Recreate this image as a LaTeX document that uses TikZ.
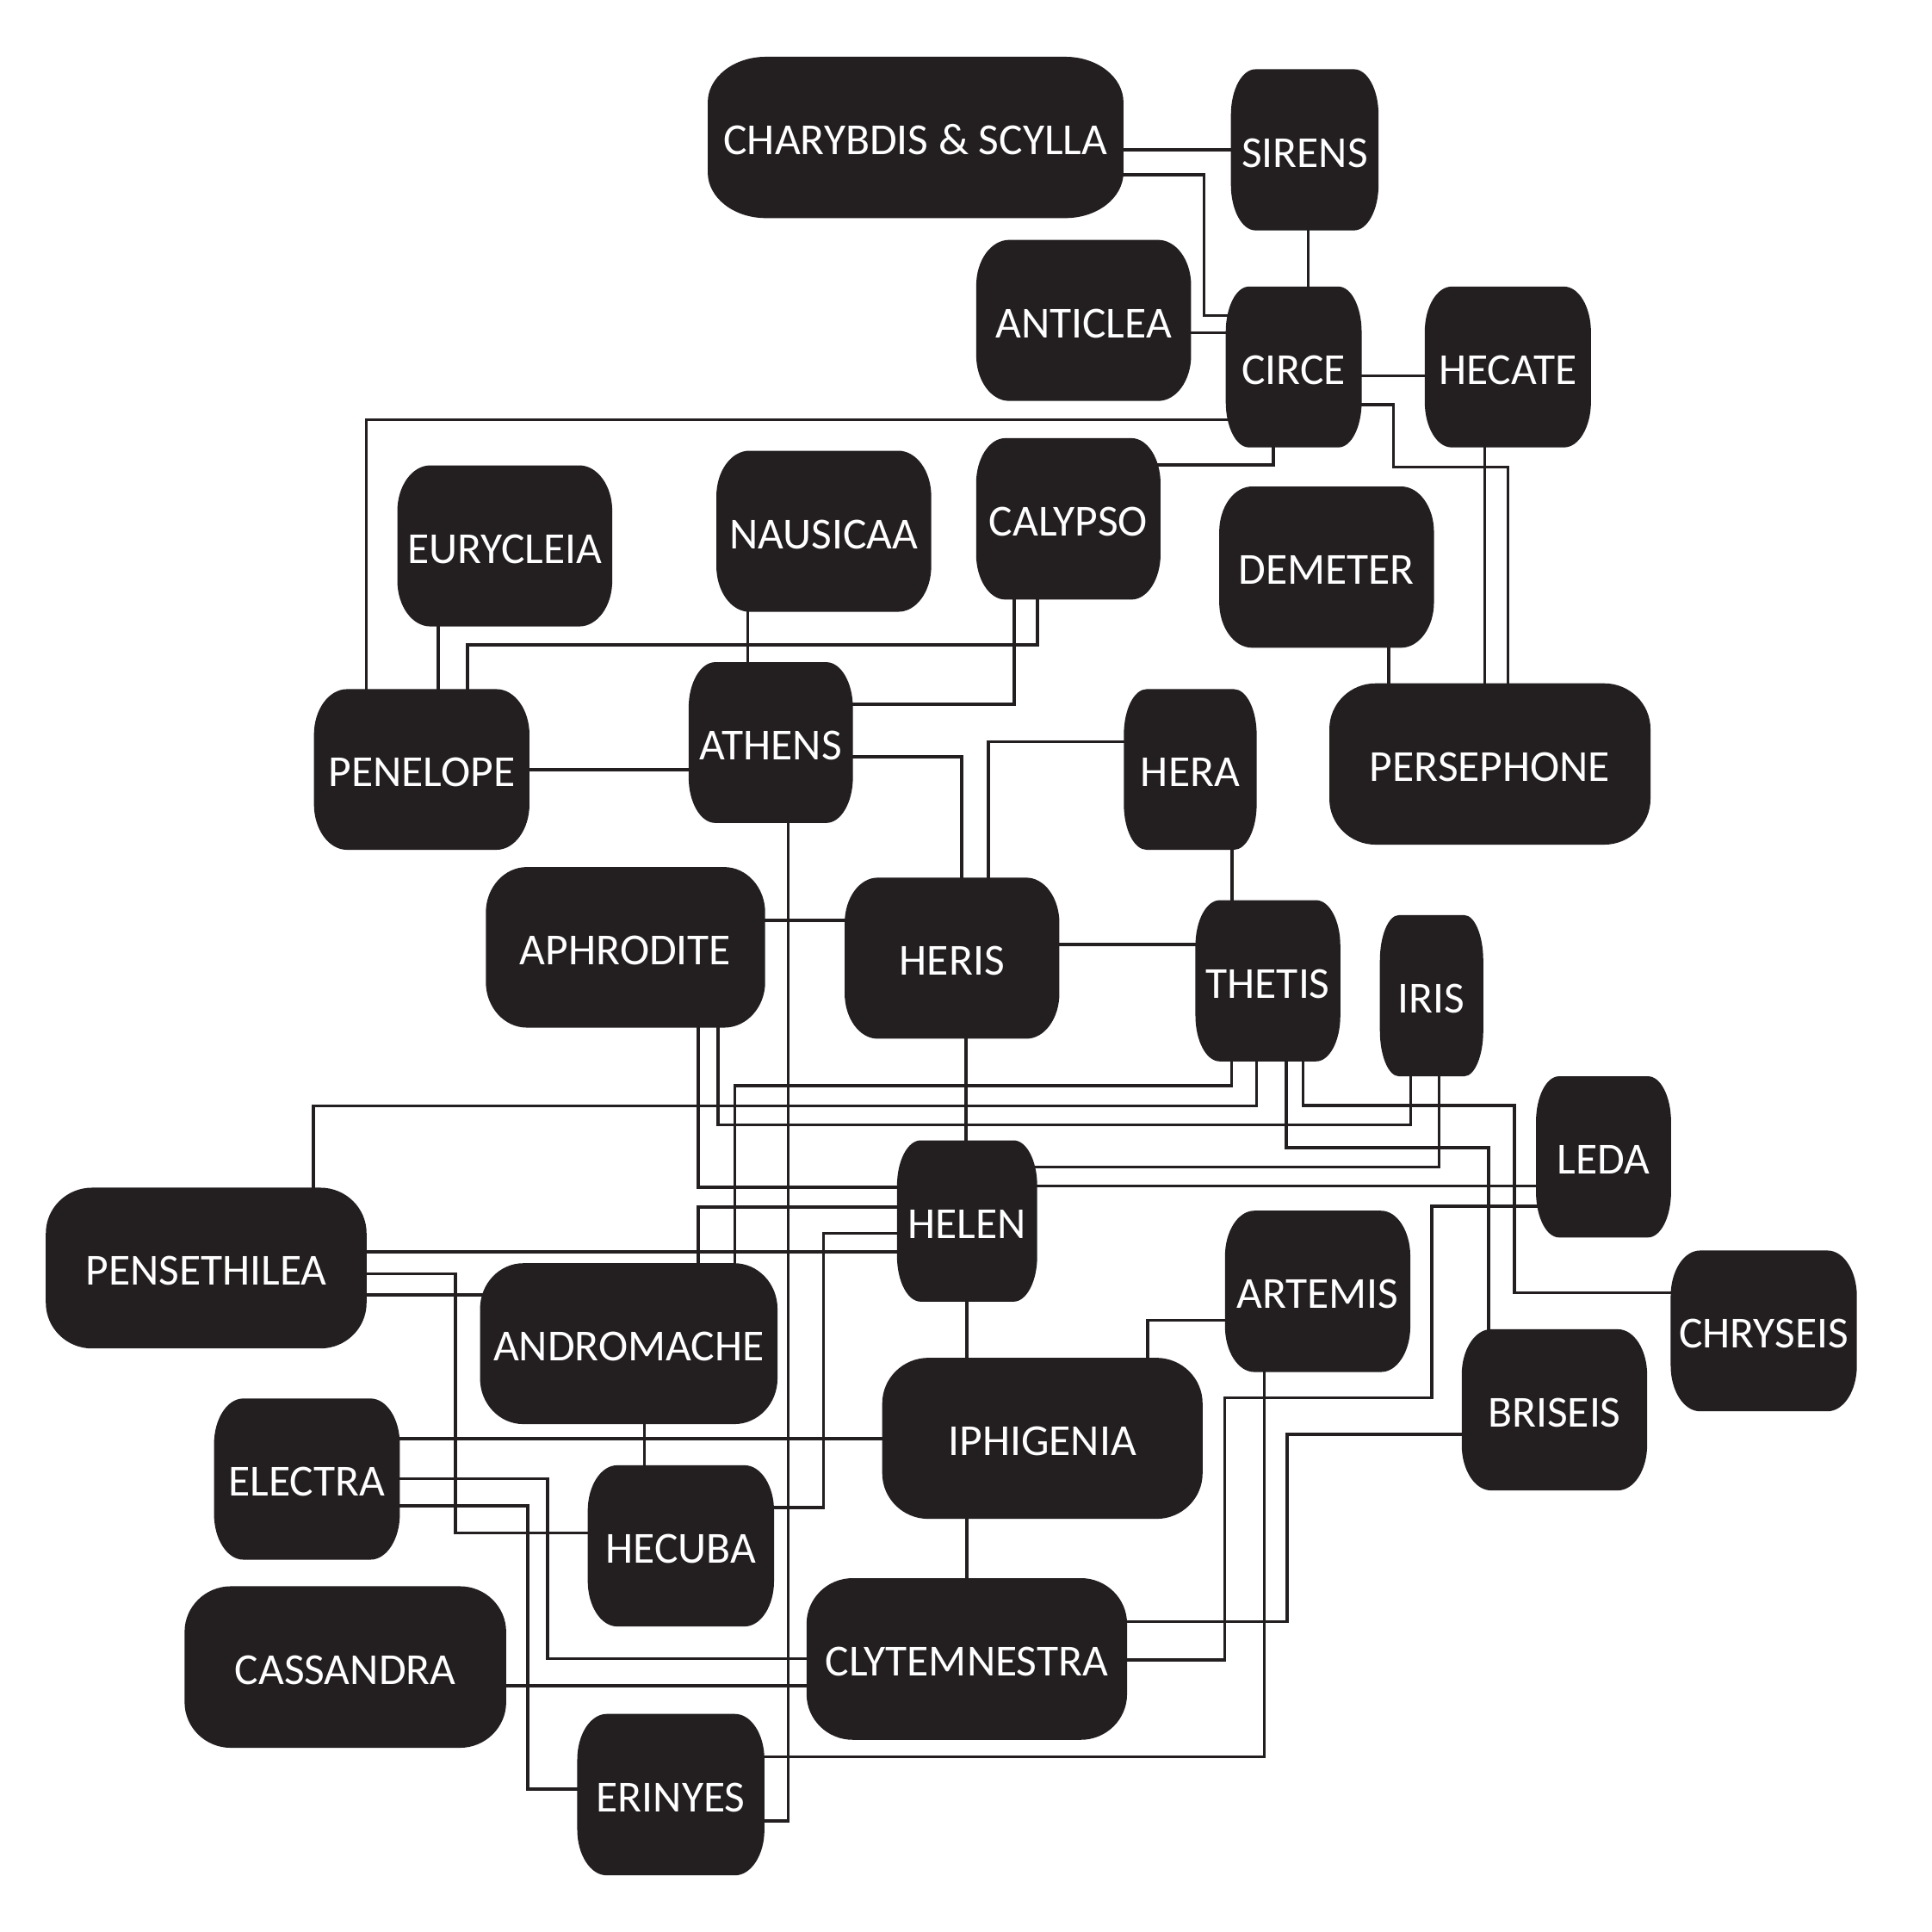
\documentclass[tikz,border=0pt]{standalone}
\usepackage{fontspec}
\setmainfont{Carlito}
\definecolor{ink}{HTML}{231F20}
\pgfdeclarelayer{lines}
\pgfdeclarelayer{boxes}
\pgfsetlayers{lines,boxes,main}
\newcommand\myry{37pt}
\newcommand\gnode[6]{%
  \pgfmathsetmacro\myw{#4-#2}%
  \pgfmathsetmacro\myh{#5-#3}%
  \pgfmathsetmacro\mycx{(#2+#4)/2}%
  \pgfmathsetmacro\mycy{(#3+#5)/2}%
  \pgfmathsetmacro\myrx{5+0.125*\myw}%
  \node[gbox, minimum width=\myw pt, minimum height=\myh pt] (#1) at (\mycx,\mycy) {#6};
  \begin{pgfonlayer}{boxes}
  \fill[ink] ([xshift=\myrx pt]#1.north west) -- ([xshift=-\myrx pt]#1.north east)
    arc[start angle=90,end angle=0,x radius=\myrx pt,y radius=\myry]
    -- ([yshift=\myry]#1.south east)
    arc[start angle=0,end angle=-90,x radius=\myrx pt,y radius=\myry]
    -- ([xshift=\myrx pt]#1.south west)
    arc[start angle=270,end angle=180,x radius=\myrx pt,y radius=\myry]
    -- ([yshift=-\myry]#1.north west)
    arc[start angle=180,end angle=90,x radius=\myrx pt,y radius=\myry]
    -- cycle;
  \end{pgfonlayer}}
\begin{document}
\begin{tikzpicture}[x=1pt,y=-1pt,
  conn/.style={draw=ink,line width=2.5pt},
  gbox/.style={rectangle,inner sep=0pt,outer sep=0pt,text=white,
    font=\fontsize{36}{40}\selectfont,text height=28pt,text depth=0pt}]
\useasboundingbox (0,0) rectangle (1568,1568);
\begin{pgfonlayer}{lines}
\fill[white] (0,0) rectangle (1568,1568);
\end{pgfonlayer}
\gnode{charyb}{574.4}{46.1}{911.8}{177.0}{CHARYBDIS \& SCYLLA}
\gnode{sirens}{999.0}{56.2}{1118.8}{187.0}{SIRENS}
\gnode{anticlea}{792.3}{194.7}{966.7}{325.4}{ANTICLEA}
\gnode{circe}{994.8}{232.6}{1105.1}{363.1}{CIRCE}
\gnode{hecate}{1156.3}{232.6}{1291.2}{363.1}{HECATE}
\gnode{eurycleia}{322.5}{377.7}{496.9}{508.4}{EURYCLEIA}
\gnode{nausicaa}{581.4}{365.8}{755.8}{496.5}{NAUSICAA}
\gnode{calypso}{792.2}{355.6}{941.9}{486.6}{CALYPSO}
\gnode{demeter}{989.5}{394.8}{1163.8}{525.7}{DEMETER}
\gnode{penelope}{254.8}{559.3}{429.7}{689.7}{PENELOPE}
\gnode{athens}{558.9}{537.4}{692.2}{667.9}{ATHENS}
\gnode{hera}{912.1}{559.3}{1019.9}{689.7}{HERA}
\gnode{persephone}{1078.9}{554.6}{1339.5}{685.5}{PERSEPHONE}
\gnode{aphrodite}{394.3}{703.7}{621.0}{834.0}{APHRODITE}
\gnode{heris}{685.5}{712.3}{859.8}{843.0}{HERIS}
\gnode{thetis}{970.2}{730.6}{1087.8}{861.4}{THETIS}
\gnode{iris}{1119.9}{742.7}{1203.8}{873.5}{IRIS}
\gnode{leda}{1246.6}{873.5}{1356.2}{1004.3}{LEDA}
\gnode{helen}{728.0}{925.5}{841.8}{1056.4}{HELEN}
\gnode{pensethilea}{37.2}{963.9}{297.5}{1094.4}{PENSETHILEA}
\gnode{artemis}{994.2}{982.6}{1144.6}{1113.5}{ARTEMIS}
\gnode{chryseis}{1355.9}{1014.9}{1507.0}{1145.4}{CHRYSEIS}
\gnode{andromache}{389.6}{1025.2}{631.0}{1155.8}{ANDROMACHE}
\gnode{iphigenia}{716.0}{1102.0}{976.0}{1232.7}{IPHIGENIA}
\gnode{briseis}{1186.3}{1078.8}{1336.8}{1209.6}{BRISEIS}
\gnode{electra}{173.7}{1135.0}{324.5}{1265.8}{ELECTRA}
\gnode{hecuba}{477.0}{1189.2}{628.2}{1320.0}{HECUBA}
\gnode{clytemnestra}{654.6}{1280.8}{914.7}{1412.0}{CLYTEMNESTRA}
\gnode{cassandra}{149.8}{1287.4}{410.8}{1418.5}{CASSANDRA}
\gnode{erinyes}{468.5}{1391.0}{620.4}{1522.0}{ERINYES}
\begin{pgfonlayer}{lines}
% top cluster
\draw[conn] (charyb.center |- 0,121.6) -- (sirens.center |- 0,121.6);
\draw[conn] (charyb.center |- 0,142) -- (977.2,142) -- (977.2,256) -- (circe.center |- 0,256);
\draw[conn] (anticlea.center |- 0,270) -- (circe.center |- 0,270);
\draw[conn] (1061.7,0 |- sirens.center) -- (1061.7,0 |- circe.center);
\draw[conn] (circe.center |- 0,305) -- (hecate.center |- 0,305);
\draw[conn] (circe.center |- 0,340.5) -- (297.4,340.5) -- (297.4,0 |- penelope.center);
\draw[conn] (1033.3,0 |- circe.center) -- (1033.3,377.4) -- (calypso.center |- 0,377.4);
\draw[conn] (circe.center |- 0,328.5) -- (1130.8,328.5) -- (1130.8,379) -- (1223.8,379) -- (1223.8,0 |- persephone.center);
\draw[conn] (1205,0 |- hecate.center) -- (1205,0 |- persephone.center);
\draw[conn] (1127,0 |- demeter.center) -- (1127,0 |- persephone.center);
% middle upper
\draw[conn] (355.8,0 |- eurycleia.center) -- (355.8,0 |- penelope.center);
\draw[conn] (842,0 |- calypso.center) -- (842,523.4) -- (379.5,523.4) -- (379.5,0 |- penelope.center);
\draw[conn] (823,0 |- calypso.center) -- (823,571.7) -- (athens.center |- 0,571.7);
\draw[conn] (607,0 |- nausicaa.center) -- (607,0 |- athens.center);
\draw[conn] (penelope.center |- 0,624.5) -- (athens.center |- 0,624.5);
\draw[conn] (athens.center |- 0,614) -- (780.4,614) -- (780.4,0 |- heris.center);
\draw[conn] (hera.center |- 0,602) -- (802,602) -- (802,0 |- heris.center);
\draw[conn] (999.8,0 |- hera.center) -- (999.8,0 |- thetis.center);
\draw[conn] (aphrodite.center |- 0,747) -- (heris.center |- 0,747);
\draw[conn] (heris.center |- 0,766.6) -- (thetis.center |- 0,766.6);
\draw[conn] (783.8,0 |- heris.center) -- (783.8,0 |- helen.center);
\draw[conn] (639.8,0 |- athens.center) -- (639.8,1477.8) -- (erinyes.center |- 0,1477.8);
% middle lower
\draw[conn] (566.5,0 |- aphrodite.center) -- (566.5,963.5) -- (helen.center |- 0,963.5);
\draw[conn] (helen.center |- 0,962.5) -- (leda.center |- 0,962.5);
\draw[conn] (582.8,0 |- aphrodite.center) -- (582.8,913) -- (1145,913) -- (1145,0 |- iris.center);
\draw[conn] (999.5,0 |- thetis.center) -- (999.5,881.2) -- (596.5,881.2) -- (596.5,0 |- andromache.center);
\draw[conn] (254.5,0 |- pensethilea.center) -- (254.5,897.5) -- (1019.7,897.5) -- (1019.7,0 |- thetis.center);
\draw[conn] (1057.4,0 |- thetis.center) -- (1057.4,897) -- (1229,897) -- (1229,1049.2) -- (chryseis.center |- 0,1049.2);
\draw[conn] (1044,0 |- thetis.center) -- (1044,931.3) -- (1208.3,931.3) -- (1208.3,0 |- briseis.center);
\draw[conn] (helen.center |- 0,947) -- (1168,947) -- (1168,0 |- iris.center);
\draw[conn] (566.6,0 |- andromache.center) -- (566.6,979.5) -- (helen.center |- 0,979.5);
\draw[conn] (leda.center |- 0,979) -- (1162,979) -- (1162,1134.4) -- (994.1,1134.4) -- (994.1,1347.3) -- (clytemnestra.center |- 0,1347.3);
\draw[conn] (helen.center |- 0,1001) -- (668.3,1001) -- (668.3,1223.7) -- (hecuba.center |- 0,1223.7);
\draw[conn] (pensethilea.center |- 0,1016) -- (helen.center |- 0,1016);
\draw[conn] (pensethilea.center |- 0,1033.7) -- (369.8,1033.7) -- (369.8,1244) -- (hecuba.center |- 0,1244);
\draw[conn] (pensethilea.center |- 0,1051) -- (andromache.center |- 0,1051);
\draw[conn] (784.5,0 |- helen.center) -- (784.5,0 |- iphigenia.center);
\draw[conn] (artemis.center |- 0,1071.4) -- (931.4,1071.4) -- (931.4,0 |- iphigenia.center);
\draw[conn] (1026,0 |- artemis.center) -- (1026,1425.8) -- (erinyes.center |- 0,1425.8);
% bottom
\draw[conn] (523,0 |- andromache.center) -- (523,0 |- hecuba.center);
\draw[conn] (electra.center |- 0,1167.5) -- (iphigenia.center |- 0,1167.5);
\draw[conn] (electra.center |- 0,1200) -- (444.6,1200) -- (444.6,1346) -- (clytemnestra.center |- 0,1346);
\draw[conn] (electra.center |- 0,1222) -- (428.5,1222) -- (428.5,1452) -- (erinyes.center |- 0,1452);
\draw[conn] (784.5,0 |- iphigenia.center) -- (784.5,0 |- clytemnestra.center);
\draw[conn] (cassandra.center |- 0,1368) -- (clytemnestra.center |- 0,1368);
\draw[conn] (briseis.center |- 0,1164) -- (1044.7,1164) -- (1044.7,1316) -- (clytemnestra.center |- 0,1316);
\end{pgfonlayer}
\end{tikzpicture}
\end{document}
